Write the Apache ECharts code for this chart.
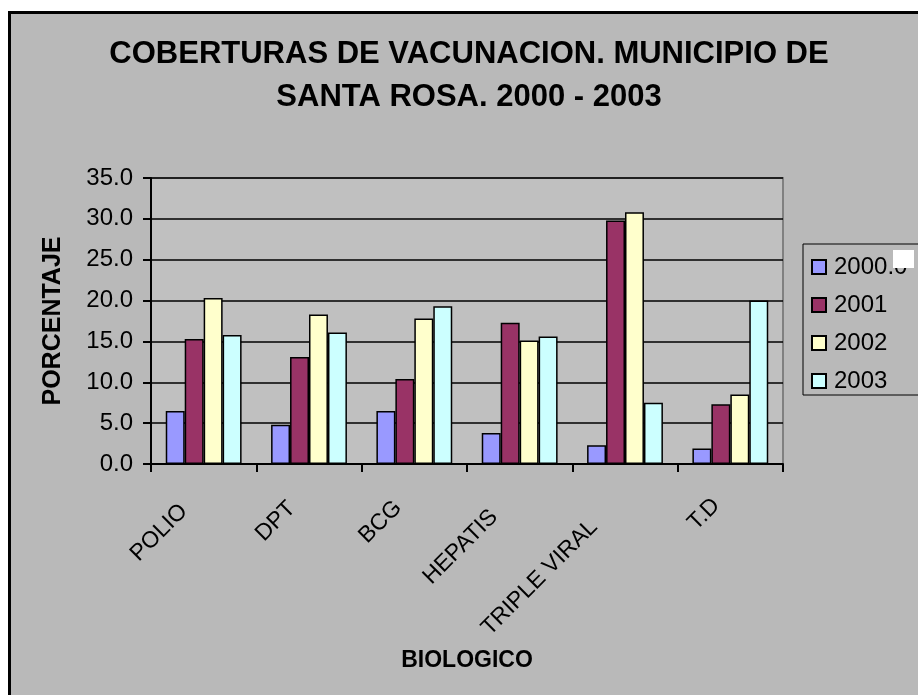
<!DOCTYPE html>
<html>
<head>
<meta charset="utf-8">
<script src="https://cdn.jsdelivr.net/npm/echarts@6/dist/echarts.min.js"></script>
<style>
html,body{margin:0;padding:0;background:#fff;}
#main{width:918px;height:695px;}
</style>
</head>
<body>
<div id="main"></div>
<script>
// ---- data ----
var categories = ['POLIO', 'DPT', 'BCG', 'HEPATIS', 'TRIPLE VIRAL', 'T.D'];
var seriesNames = ['2000.0', '2001', '2002', '2003'];
var v2000 = [6.5, 4.8, 6.5, 3.8, 2.3, 1.9];
var v2001 = [15.3, 13.1, 10.4, 17.3, 29.8, 7.3];
var v2002 = [20.3, 18.3, 17.8, 15.1, 30.8, 8.5];
var v2003 = [15.8, 16.1, 19.3, 15.6, 7.5, 20.0];
var yTicks = [0, 5, 10, 15, 20, 25, 30, 35];
var seriesValues = [v2000, v2001, v2002, v2003];
var seriesColors = ['#9999FF', '#993366', '#FFFFCC', '#CCFFFF'];

var FONT = '"Liberation Sans", Arial, sans-serif';
// per-label shift along the rotated text (style only)
var labelPad = [[0, 28, 0, 0], [0, 24, 0, 0], [0, 23, 0, 0], [0, 36, 0, 0], [6, 47, 0, 0], [0, 20, 0, 0]];
var rich = {};
labelPad.forEach(function (p, i) {
  rich['c' + i] = {fontFamily: FONT, fontSize: 23, color: '#000', padding: p};
});

var chart = echarts.init(document.getElementById('main'));

var option = {
  backgroundColor: '#ffffff',
  animation: false,
  textStyle: {fontFamily: FONT},
  graphic: [
    {type: 'rect', z: -100, silent: true,
     shape: {x: 9.5, y: 12.5, width: 1000, height: 1000},
     style: {fill: '#B9B9B9', stroke: '#000', lineWidth: 3}},
    {type: 'rect', z: 200, silent: true,
     shape: {x: 893, y: 250, width: 21, height: 18},
     style: {fill: '#ffffff'}}
  ],
  title: {
    text: 'COBERTURAS DE VACUNACION. MUNICIPIO DE\nSANTA ROSA. 2000 - 2003',
    left: 469,
    textAlign: 'center',
    top: 33,
    padding: 0,
    textStyle: {fontFamily: FONT, fontSize: 31, fontWeight: 'bold', color: '#000', lineHeight: 43}
  },
  legend: {
    orient: 'vertical',
    left: 803,
    top: 244,
    padding: [11, 60, 2, 8],
    itemWidth: 14,
    itemHeight: 14,
    itemGap: 14,
    icon: 'rect',
    backgroundColor: '#B9B9B9',
    borderColor: '#000',
    borderWidth: 1,
    textStyle: {fontFamily: FONT, fontSize: 24, color: '#000', lineHeight: 24, padding: [0, 0, 0, 3]}
  },
  grid: {
    left: 151, top: 178, right: 135, bottom: 231,
    show: true, backgroundColor: '#C0C0C0', borderColor: '#808080', borderWidth: 2
  },
  xAxis: {
    type: 'category',
    data: categories,
    name: 'BIOLOGICO',
    nameLocation: 'middle',
    nameGap: 185,
    nameMoveOverlap: false,
    nameTextStyle: {fontFamily: FONT, fontSize: 23, fontWeight: 'bold', color: '#000'},
    axisLine: {lineStyle: {color: '#000', width: 2}},
    axisTick: {show: true, length: 8, lineStyle: {color: '#000', width: 2}},
    axisLabel: {rotate: 45, fontSize: 23, color: '#000', margin: 24, fontFamily: FONT,
      formatter: function (v, i) { return '{c' + i + '|' + v + '}'; },
      rich: rich},
    splitLine: {show: false}
  },
  yAxis: {
    type: 'value',
    min: 0, max: 35, interval: 5,
    name: 'PORCENTAJE',
    nameLocation: 'middle',
    nameRotate: 90,
    nameGap: 85,
    nameMoveOverlap: false,
    nameTextStyle: {fontFamily: FONT, fontSize: 25, fontWeight: 'bold', color: '#000'},
    axisLine: {show: true, lineStyle: {color: '#000', width: 2}},
    axisTick: {show: true, length: 8, lineStyle: {color: '#000', width: 2}},
    axisLabel: {fontSize: 24, color: '#000', margin: 18, fontFamily: FONT,
      formatter: function (v) { return v.toFixed(1); }},
    splitLine: {show: true, lineStyle: {color: '#000', width: 1.5}}
  },
  series: seriesNames.map(function (n, i) {
    return {
      name: n,
      type: 'bar',
      data: seriesValues[i],
      barGap: '0%',
      barCategoryGap: '28%',
      itemStyle: {color: seriesColors[i], borderColor: '#000', borderWidth: 1.5}
    };
  })
};
chart.setOption(option);
</script>
</body>
</html>
